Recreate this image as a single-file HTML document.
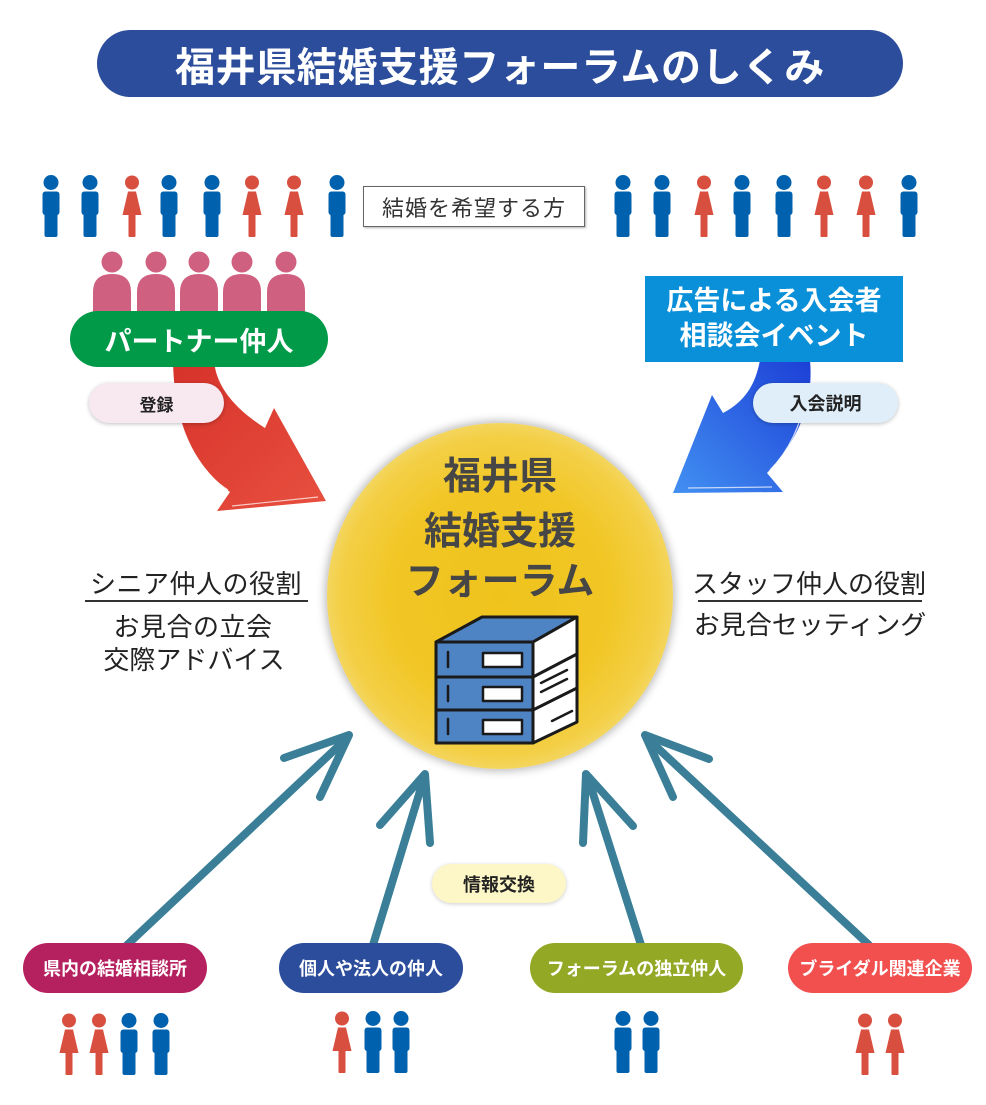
<!DOCTYPE html>
<html lang="ja">
<head>
<meta charset="utf-8">
<style>
  html,body{margin:0;padding:0;background:#fff;}
  body{width:986px;height:1105px;position:relative;overflow:hidden;font-family:"Liberation Sans","Noto Sans CJK JP",sans-serif;}
  .a{position:absolute;box-sizing:border-box;}
  .c{display:flex;align-items:center;justify-content:center;white-space:nowrap;}
  .pill{border-radius:30px;}
  .b{font-weight:bold;}
</style>
</head>
<body>

<!-- central circle -->
<div class="a" style="left:327px;top:423px;width:346px;height:346px;border-radius:50%;background:radial-gradient(circle,#f0c31c 0%,#f1c625 45%,#f3cf45 65%,#f8e38f 82%,#fcf2cc 93%,#fffaea 100%);box-shadow:0 0 9px 2px rgba(0,0,0,0.28);"></div>

<svg class="a" style="left:0;top:0;" width="986" height="1105" viewBox="0 0 986 1105" xmlns="http://www.w3.org/2000/svg">
  <defs>
    <symbol id="m" viewBox="0 0 20 62">
      <circle cx="10" cy="7.5" r="7.5"/>
      <path d="M4.5,16.5 H15.5 Q18.5,16.5 18.5,20 V37 Q18.5,39 16.5,40 V60 Q16.5,62 14.5,62 H5.5 Q3.5,62 3.5,60 V40 Q1.5,39 1.5,37 V20 Q1.5,16.5 4.5,16.5 Z"/>
    </symbol>
    <symbol id="f" viewBox="0 0 20 62">
      <circle cx="10" cy="7.5" r="7"/>
      <path d="M6,16.5 H14 L19.5,40 H0.5 Z"/>
      <rect x="6.5" y="39" width="7" height="23" rx="1"/>
    </symbol>
    <linearGradient id="rg" x1="0" y1="0" x2="1" y2="1">
      <stop offset="0" stop-color="#d6322a"/>
      <stop offset="1" stop-color="#e8503f"/>
    </linearGradient>
    <linearGradient id="bg" x1="1" y1="0" x2="0" y2="1">
      <stop offset="0" stop-color="#1c3fd6"/>
      <stop offset="1" stop-color="#4290f2"/>
    </linearGradient>
  </defs>

  <!-- top row people left -->
  <g>
    <use href="#m" x="41" y="175" width="20" height="62" fill="#0062ae"/>
    <use href="#m" x="80" y="175" width="20" height="62" fill="#0062ae"/>
    <use href="#f" x="122" y="175" width="20" height="62" fill="#d84e3f"/>
    <use href="#m" x="159" y="175" width="20" height="62" fill="#0062ae"/>
    <use href="#m" x="202" y="175" width="20" height="62" fill="#0062ae"/>
    <use href="#f" x="242" y="175" width="20" height="62" fill="#d84e3f"/>
    <use href="#f" x="284" y="175" width="20" height="62" fill="#d84e3f"/>
    <use href="#m" x="327" y="175" width="20" height="62" fill="#0062ae"/>
  </g>
  <!-- top row people right -->
  <g>
    <use href="#m" x="613" y="175" width="20" height="62" fill="#0062ae"/>
    <use href="#m" x="652" y="175" width="20" height="62" fill="#0062ae"/>
    <use href="#f" x="694" y="175" width="20" height="62" fill="#d84e3f"/>
    <use href="#m" x="732" y="175" width="20" height="62" fill="#0062ae"/>
    <use href="#m" x="774" y="175" width="20" height="62" fill="#0062ae"/>
    <use href="#f" x="814" y="175" width="20" height="62" fill="#d84e3f"/>
    <use href="#f" x="856" y="175" width="20" height="62" fill="#d84e3f"/>
    <use href="#m" x="899" y="175" width="20" height="62" fill="#0062ae"/>
  </g>

  <!-- pink partner people -->
  <g fill="#d0607f">
    <circle cx="112" cy="262" r="10.5"/>
    <circle cx="156" cy="262" r="10.5"/>
    <circle cx="199" cy="262" r="10.5"/>
    <circle cx="242" cy="262" r="10.5"/>
    <circle cx="286" cy="262" r="10.5"/>
    <path d="M93,320 V292 Q93,274 112,274 Q131,274 131,292 V320 Z"/>
    <path d="M137,320 V292 Q137,274 156,274 Q175,274 175,292 V320 Z"/>
    <path d="M180,320 V292 Q180,274 199,274 Q218,274 218,292 V320 Z"/>
    <path d="M223,320 V292 Q223,274 242,274 Q261,274 261,292 V320 Z"/>
    <path d="M267,320 V292 Q267,274 286,274 Q305,274 305,292 V320 Z"/>
  </g>

  <!-- red arrow -->
  <path d="M173,360 L214,360 C216,390 240,412 265,428 L274,408 L326,501 L217,511 L230,492 C198,468 174,430 173,360 Z" fill="url(#rg)"/>
  <path d="M180,415 C184,448 203,474 228,490" fill="none" stroke="#fff" stroke-opacity="0.8" stroke-width="1.2"/>
  <path d="M232,506 L318,497" fill="none" stroke="#fff" stroke-opacity="0.7" stroke-width="1.2"/>

  <!-- blue arrow -->
  <path d="M760,360 C755,388 742,403 723,413 L712,395 L673,493 L783,492 L767,473 C797,442 814,405 810,360 Z" fill="url(#bg)"/>
  <path d="M806,392 C802,425 788,452 770,470" fill="none" stroke="#fff" stroke-opacity="0.8" stroke-width="1.2"/>
  <path d="M688,488 L772,487" fill="none" stroke="#fff" stroke-opacity="0.7" stroke-width="1.2"/>

  <!-- server icon -->
  <g stroke="#1a1a1a" stroke-width="3" stroke-linejoin="round" stroke-linecap="round">
    <path d="M436,642 L482,617 L577,617 L533,642 Z" fill="#4e83c4"/>
    <path d="M533,642 L577,617 L577,722 L533,743 Z" fill="#ffffff"/>
    <rect x="436" y="642" width="97" height="101" fill="#4e83c4"/>
    <line x1="436" y1="677" x2="533" y2="677"/>
    <line x1="436" y1="710" x2="533" y2="710"/>
    <line x1="533" y1="677" x2="577" y2="654"/>
    <line x1="533" y1="710" x2="577" y2="688"/>
    <line x1="541" y1="683" x2="567" y2="670" stroke-width="2.5"/>
    <line x1="541" y1="692" x2="567" y2="679" stroke-width="2.5"/>
    <line x1="552" y1="721" x2="572" y2="711" stroke-width="2.5"/>
    <line x1="448" y1="652" x2="448" y2="667" stroke-width="2.5"/>
    <line x1="448" y1="686" x2="448" y2="701" stroke-width="2.5"/>
    <line x1="448" y1="719" x2="448" y2="734" stroke-width="2.5"/>
    <rect x="483" y="653" width="39" height="14" fill="#fff" stroke-width="2.5"/>
    <rect x="483" y="687" width="39" height="14" fill="#fff" stroke-width="2.5"/>
    <rect x="483" y="720" width="39" height="14" fill="#fff" stroke-width="2.5"/>
  </g>

  <!-- teal arrows -->
  <g stroke="#3a7f97" stroke-width="8" stroke-linecap="round" stroke-linejoin="round" fill="none">
    <line x1="127" y1="945" x2="346" y2="739"/>
    <polyline points="284,758 349,735 320,797"/>
    <line x1="373" y1="945" x2="424" y2="778"/>
    <polyline points="380,825 425,774 430,843"/>
    <line x1="641" y1="945" x2="588" y2="778"/>
    <polyline points="583,843 586,774 633,826"/>
    <line x1="869" y1="945" x2="648" y2="739"/>
    <polyline points="673,797 645,735 709,759"/>
  </g>

  <!-- bottom people -->
  <use href="#f" x="59" y="1013" width="20" height="62" fill="#d84e3f"/>
  <use href="#f" x="89" y="1013" width="20" height="62" fill="#d84e3f"/>
  <use href="#m" x="119" y="1013" width="20" height="62" fill="#0062ae"/>
  <use href="#m" x="151" y="1013" width="20" height="62" fill="#0062ae"/>

  <use href="#f" x="332" y="1011" width="20" height="62" fill="#d84e3f"/>
  <use href="#m" x="363" y="1011" width="20" height="62" fill="#0062ae"/>
  <use href="#m" x="391" y="1011" width="20" height="62" fill="#0062ae"/>

  <use href="#m" x="613" y="1011" width="20" height="62" fill="#0062ae"/>
  <use href="#m" x="641" y="1011" width="20" height="62" fill="#0062ae"/>

  <use href="#f" x="855" y="1013" width="20" height="62" fill="#d84e3f"/>
  <use href="#f" x="885" y="1013" width="20" height="62" fill="#d84e3f"/>

  <!-- underlines -->
  <line x1="85" y1="601" x2="308" y2="601" stroke="#333" stroke-width="2"/>
  <line x1="698" y1="601" x2="922" y2="601" stroke="#333" stroke-width="2"/>
</svg>

<!-- title -->
<div class="a c b" style="left:97px;top:30px;width:806px;height:67px;border-radius:34px;background:#2b4d9b;color:#fff;font-size:40px;letter-spacing:0.6px;">福井県結婚支援フォーラムのしくみ</div>

<!-- label box -->
<div class="a c" style="left:363px;top:186px;width:222px;height:41px;border:1.5px solid #666;background:#fff;box-shadow:1px 1px 2px rgba(0,0,0,0.3);font-size:22px;color:#333;letter-spacing:1px;">結婚を希望する方</div>

<!-- partner pill -->
<div class="a c pill b" style="left:70px;top:311px;width:258px;height:56px;background:#009a48;color:#fff;font-size:27px;">パートナー仲人</div>

<!-- 登録 -->
<div class="a c pill b" style="left:89px;top:383px;width:135px;height:40px;background:#f8e8f0;color:#222;font-size:17px;box-shadow:0 1px 4px rgba(0,0,0,0.25);">登録</div>

<!-- ad box -->
<div class="a b" style="left:645px;top:276px;width:258px;height:86px;background:#0a90d8;color:#fff;font-size:27px;line-height:35px;text-align:center;padding-top:8px;">広告による入会者<br>相談会イベント</div>

<!-- 入会説明 -->
<div class="a c pill b" style="left:753px;top:383px;width:145px;height:40px;background:#dfeef9;color:#222;font-size:18px;box-shadow:0 1px 4px rgba(0,0,0,0.25);">入会説明</div>

<!-- circle text -->
<div class="a c b" style="left:380px;top:450px;width:240px;height:44px;color:#464646;font-size:38px;">福井県</div>
<div class="a c b" style="left:380px;top:505px;width:240px;height:44px;color:#464646;font-size:38px;">結婚支援</div>
<div class="a c b" style="left:380px;top:555px;width:240px;height:44px;color:#464646;font-size:38px;">フォーラム</div>

<!-- left text -->
<div class="a c" style="left:76px;top:565px;width:240px;height:34px;color:#222;font-size:26px;letter-spacing:0.5px;">シニア仲人の役割</div>
<div class="a c" style="left:73px;top:608px;width:240px;height:34px;color:#222;font-size:26px;letter-spacing:0.5px;">お見合の立会</div>
<div class="a c" style="left:74px;top:641px;width:240px;height:34px;color:#222;font-size:26px;">交際アドバイス</div>

<!-- right text -->
<div class="a c" style="left:679px;top:565px;width:260px;height:34px;color:#222;font-size:26px;">スタッフ仲人の役割</div>
<div class="a c" style="left:680px;top:606px;width:260px;height:34px;color:#222;font-size:26px;">お見合セッティング</div>

<!-- 情報交換 -->
<div class="a c pill b" style="left:432px;top:864px;width:134px;height:39px;background:#fdf6c6;color:#222;font-size:18px;box-shadow:0 1px 4px rgba(0,0,0,0.2);">情報交換</div>

<!-- bottom pills -->
<div class="a c pill b" style="left:23px;top:943px;width:184px;height:50px;background:#b5215e;color:#fff;font-size:18px;">県内の結婚相談所</div>
<div class="a c pill b" style="left:279px;top:943px;width:184px;height:50px;background:#2b4d9b;color:#fff;font-size:18px;">個人や法人の仲人</div>
<div class="a c pill b" style="left:530px;top:943px;width:213px;height:50px;background:#93a825;color:#fff;font-size:18px;">フォーラムの独立仲人</div>
<div class="a c pill b" style="left:788px;top:943px;width:184px;height:50px;background:#f2504f;color:#fff;font-size:18px;">ブライダル関連企業</div>

</body>
</html>
